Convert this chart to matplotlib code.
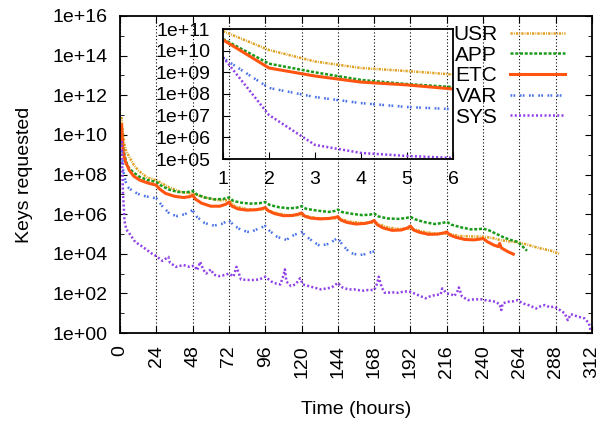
import matplotlib
matplotlib.use("Agg")
import matplotlib.pyplot as plt
import numpy as np
from matplotlib.ticker import FixedLocator, FuncFormatter, LogLocator, NullFormatter

# series: hours since start, log10(keys requested)
usr_h = [1, 2, 3, 4, 5, 6, 9, 12, 18, 24, 32, 40, 48, 56, 65, 72, 76, 84, 90, 96,
         102, 110, 120, 130, 138, 144, 152, 160, 168, 176, 184, 192, 200, 208, 216,
         224, 232, 240, 246, 252, 258, 263, 269, 274, 278, 285, 291]
usr_v = [10.90, 10.03, 9.50, 9.20, 9.06, 8.90, 8.50, 8.21, 7.84, 7.71, 7.37, 7.12, 7.04,
         6.84, 6.70, 6.70, 6.40, 6.25, 6.22, 6.25, 6.08, 5.95, 5.95, 5.80, 5.78, 5.80,
         5.62, 5.55, 5.58, 5.35, 5.25, 5.28, 5.12, 5.02, 5.02, 4.90, 4.87, 4.86, 4.80,
         4.68, 4.62, 4.57, 4.47, 4.35, 4.27, 4.15, 3.98]

app_h = [1, 2, 3, 4, 5, 6, 9, 13, 18, 24, 27, 32, 38, 44, 48, 51, 56, 62, 68, 72, 75,
         80, 86, 92, 96, 99, 105, 112, 117, 120, 123, 130, 138, 142, 144, 147, 153, 160,
         165, 168, 171, 177, 184, 189, 192, 195, 201, 208, 213, 216, 219, 225, 232, 237,
         240, 244, 248, 253, 258, 263, 266, 269]
app_v = [10.54, 9.40, 9.00, 8.65, 8.46, 8.32, 8.10, 7.88, 7.72, 7.62, 7.45, 7.25, 7.12,
         7.10, 7.17, 6.98, 6.84, 6.75, 6.76, 6.84, 6.66, 6.58, 6.53, 6.55, 6.61, 6.46,
         6.35, 6.29, 6.33, 6.40, 6.27, 6.18, 6.11, 6.16, 6.23, 6.10, 6.02, 5.95, 5.97,
         6.03, 5.88, 5.78, 5.76, 5.80, 5.86, 5.74, 5.60, 5.50, 5.55, 5.61, 5.47, 5.34,
         5.23, 5.24, 5.27, 5.18, 5.03, 4.85, 4.70, 4.60, 4.38, 4.15]

etc_h = [1, 2, 3, 4, 5, 6, 9, 13, 18, 24, 26, 30, 36, 42, 46, 48, 50, 54, 60, 66, 70, 72,
         74, 78, 84, 90, 94, 96, 98, 102, 108, 114, 118, 120, 122, 126, 132, 138, 142,
         144, 146, 150, 156, 162, 166, 168, 170, 174, 180, 186, 190, 192, 194, 198, 204,
         210, 214, 216, 218, 222, 228, 234, 238, 240, 243, 247, 250, 251, 252, 256, 260]
etc_v = [10.50, 9.20, 8.83, 8.55, 8.42, 8.23, 7.92, 7.72, 7.58, 7.46, 7.28, 7.05, 6.90,
         6.84, 6.88, 6.95, 6.75, 6.55, 6.40, 6.40, 6.50, 6.60, 6.40, 6.26, 6.20, 6.22,
         6.28, 6.33, 6.17, 6.03, 5.92, 5.93, 6.00, 6.06, 5.90, 5.80, 5.76, 5.78, 5.83,
         5.87, 5.70, 5.58, 5.50, 5.53, 5.60, 5.68, 5.47, 5.30, 5.18, 5.20, 5.30, 5.40,
         5.20, 5.08, 4.98, 4.99, 5.05, 5.10, 4.95, 4.83, 4.72, 4.70, 4.74, 4.77, 4.60,
         4.44, 4.36, 4.52, 4.30, 4.12, 3.98]

var_h = [1, 2, 3, 4, 5, 6, 10, 14, 20, 24, 28, 33, 38, 43, 48, 51, 56, 62, 67, 72, 75,
         80, 86, 91, 96, 99, 104, 110, 115, 120, 123, 128, 132, 138, 144, 147, 152, 158,
         162, 166, 168]
var_v = [9.66, 8.28, 7.86, 7.58, 7.40, 7.30, 7.10, 6.95, 6.85, 6.80, 6.40, 6.00, 5.90,
         6.00, 6.20, 5.85, 5.55, 5.42, 5.50, 5.69, 5.45, 5.20, 5.08, 5.25, 5.40, 5.15,
         4.85, 4.70, 4.95, 5.10, 4.88, 4.60, 4.40, 4.50, 4.80, 4.45, 4.05, 3.93, 3.98,
         4.08, 4.12]

sys_h = [1, 2, 3, 4, 5, 6, 10, 15, 21, 24, 28, 32, 33, 37, 42, 46, 49, 51, 53, 55, 57,
         60, 62, 65, 69, 72, 75, 77, 80, 87, 92, 96, 100, 103, 106, 108, 109, 110, 113,
         116, 119, 121, 126, 133, 140, 144, 147, 151, 155, 160, 164, 168, 170, 171, 173,
         175, 180, 184, 188, 192, 196, 202, 205, 208, 212, 213, 216, 219, 221, 223, 224,
         226, 230, 234, 239, 241, 245, 248, 251, 252, 253, 257, 260, 263, 266, 270, 275,
         278, 281, 284, 287, 290, 294, 296, 298, 303, 307, 310, 311]
sys_v = [9.70, 7.03, 5.65, 5.28, 5.14, 5.05, 4.60, 4.35, 4.01, 3.88, 3.64, 3.84, 3.55,
         3.34, 3.43, 3.34, 3.40, 3.17, 3.59, 3.20, 3.00, 3.21, 2.95, 2.87, 2.92, 3.00,
         2.85, 3.34, 2.70, 2.67, 2.70, 2.84, 2.60, 2.50, 2.45, 2.90, 3.21, 2.60, 2.37,
         2.45, 2.76, 2.45, 2.34, 2.20, 2.30, 2.53, 2.30, 2.20, 2.20, 2.13, 2.17, 2.17,
         2.50, 2.84, 2.30, 2.03, 2.05, 2.03, 2.10, 2.08, 1.95, 1.75, 1.85, 1.91, 1.95,
         2.25, 2.00, 1.95, 1.86, 2.10, 2.30, 1.85, 1.66, 1.70, 1.70, 1.66, 1.62, 1.58,
         1.45, 1.16, 1.50, 1.58, 1.60, 1.66, 1.50, 1.41, 1.24, 1.35, 1.41, 1.30, 1.33,
         1.20, 0.99, 0.65, 0.95, 0.82, 0.74, 0.49, 0.15]

labels = ["USR", "APP", "ETC", "VAR", "SYS"]
colors = ["#e0a020", "#1a9a1a", "#ff5511", "#4a72e8", "#9040e8"]
styles = [(0, (0.9, 0.45, 0.35, 0.45)), (0, (1.2, 0.7)), "-",
          (0, (0.7, 0.5, 0.7, 1.8)), (0, (0.8, 0.9))]
widths = [1.8, 1.8, 2.2, 1.8, 1.8]
series = [(usr_h, usr_v), (app_h, app_v), (etc_h, etc_v), (var_h, var_v), (sys_h, sys_v)]

x_ticks = list(range(0, 313, 24))

plt.rcParams.update({
    "font.family": "Liberation Sans",
    "font.size": 14,
    "axes.linewidth": 1.3,
})

fig = plt.figure(figsize=(6.1, 4.25), dpi=100)
ax = fig.add_axes([120 / 610, 1 - 333 / 425, 472 / 610, 317 / 425])

for (h, v), lab, c, ls, lw in zip(series, labels, colors, styles, widths):
    ax.plot(h, 10 ** np.array(v), color=c, ls=ls, lw=lw, label=lab)

ax.set_yscale("log")
ax.set_xlim(0, 312)
ax.set_ylim(1, 1e16)
ax.set_xticks(x_ticks)
ax.set_xticklabels([str(t) for t in x_ticks], rotation=90)
ax.yaxis.set_major_locator(FixedLocator([10.0 ** k for k in range(0, 17, 2)]))
ax.yaxis.set_minor_locator(FixedLocator([10.0 ** k for k in range(1, 16, 2)]))
ax.yaxis.set_major_formatter(FuncFormatter(lambda v, p: f"{v:.0e}"))
ax.yaxis.set_minor_formatter(NullFormatter())
ax.tick_params(which="both", direction="in", top=True, right=True)
ax.tick_params(which="major", length=5, pad=9)
ax.tick_params(which="minor", length=3)
ax.grid(axis="x", color="black", ls=(0, (1, 2)), lw=0.8)
ax.set_ylabel("Keys requested", labelpad=14)
ax.set_xlabel("Time (hours)", labelpad=16)

leg = ax.legend(loc="upper left", bbox_to_anchor=(453 / 610, 1 - 25 / 425),
                bbox_transform=fig.transFigure, frameon=False, markerfirst=False,
                fontsize=15, handlelength=2.65, handletextpad=0.6, labelspacing=0.08,
                borderpad=0, borderaxespad=0)

# inset: first six hours
ins = fig.add_axes([223 / 610, 1 - 159 / 425, 230 / 610, 130 / 425])
ins.patch.set_alpha(0)
for (h, v), c, ls, lw in zip(series, colors, styles, widths):
    ins.plot(h[:6], 10 ** np.array(v[:6]), color=c, ls=ls, lw=lw)
ins.set_yscale("log")
ins.set_xlim(1, 6)
ins.set_ylim(1e5, 1e11)
ins.set_xticks(range(1, 7))
ins.yaxis.set_major_locator(FixedLocator([10.0 ** k for k in range(5, 12)]))
ins.yaxis.set_minor_locator(LogLocator(subs=np.arange(2, 10)))
ins.yaxis.set_major_formatter(FuncFormatter(lambda v, p: f"{v:.0e}"))
ins.yaxis.set_minor_formatter(NullFormatter())
ins.tick_params(which="both", direction="in")
ins.tick_params(which="major", length=5, pad=9)
ins.tick_params(which="minor", length=2.5)

fig.savefig("out.png", dpi=100)
